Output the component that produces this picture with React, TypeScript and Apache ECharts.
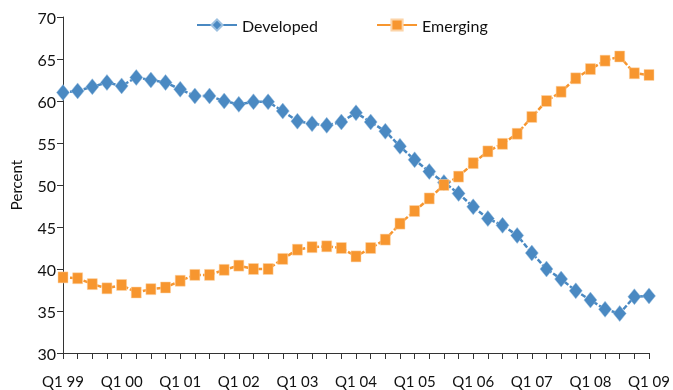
import React, { useEffect, useRef } from "react";
import * as echarts from "echarts";

const categories: string[] = [];
const years = ["99", "00", "01", "02", "03", "04", "05", "06", "07", "08", "09"];
years.forEach((y, i) => {
  const qs = i === years.length - 1 ? 1 : 4;
  for (let q = 1; q <= qs; q++) categories.push(`Q${q} ${y}`);
});

const developed = [
  61.0, 61.2, 61.7, 62.2, 61.8, 62.8, 62.5, 62.2, 61.4, 60.6,
  60.6, 60.0, 59.6, 59.9, 59.9, 58.8, 57.6, 57.3, 57.1, 57.5,
  58.6, 57.5, 56.4, 54.6, 53.0, 51.6, 50.3, 49.0, 47.4, 46.0,
  45.2, 44.0, 41.9, 40.0, 38.8, 37.4, 36.3, 35.2, 34.7, 36.7,
  36.8,
];

const emerging = [
  39.0, 38.9, 38.2, 37.7, 38.1, 37.2, 37.6, 37.8, 38.6, 39.3,
  39.3, 39.9, 40.4, 40.0, 40.0, 41.2, 42.3, 42.6, 42.7, 42.5,
  41.5, 42.5, 43.5, 45.4, 46.9, 48.4, 50.0, 51.0, 52.6, 54.0,
  54.9, 56.1, 58.1, 60.0, 61.1, 62.7, 63.8, 64.8, 65.3, 63.3,
  63.1,
];

const FONT = "Lato";
const BLUE = "#4A89C2";
const ORANGE = "#F7962F";

export default function App() {
  const ref = useRef<HTMLDivElement>(null);
  useEffect(() => {
    if (!ref.current) return;
    const chart = echarts.init(ref.current, undefined, { renderer: "svg" });
    chart.setOption({
      animation: false,
      textStyle: { fontFamily: FONT },
      grid: { left: 56, right: 21, top: 17, bottom: 37 },
      legend: {
        left: 191,
        top: 12,
        itemWidth: 40,
        itemHeight: 14,
        itemGap: 58,
        lineStyle: { type: "solid" },
        textStyle: { fontSize: 16, color: "#111", fontFamily: FONT },
        data: ["Developed", "Emerging"],
      },
      xAxis: {
        type: "category",
        data: categories,
        boundaryGap: false,
        axisLine: { lineStyle: { color: "#333", width: 1 } },
        axisTick: { show: true, interval: 0, length: 6, lineStyle: { color: "#333" } },
        axisLabel: {
          interval: 3,
          fontSize: 15,
          color: "#111",
          margin: 20,
          formatter: (v: string) => (v.startsWith("Q1") ? v : ""),
        },
        splitLine: { show: false },
      },
      yAxis: {
        type: "value",
        min: 30,
        max: 70,
        interval: 5,
        name: "Percent",
        nameLocation: "middle",
        nameGap: 40,
        nameTextStyle: { fontSize: 15, color: "#111" },
        axisLine: { show: true, lineStyle: { color: "#333", width: 1 } },
        axisTick: { show: true, length: 6, lineStyle: { color: "#333" } },
        axisLabel: { fontSize: 16, color: "#111", margin: 7 },
        splitLine: { show: false },
      },
      series: [
        {
          name: "Developed",
          type: "line",
          data: developed,
          symbol: "diamond",
          symbolSize: [13, 16],
          showAllSymbol: true,
          lineStyle: { color: BLUE, width: 2.5, type: [5, 2] },
          itemStyle: { color: BLUE, borderColor: "#9cc0e0", borderWidth: 0.5 },
        },
        {
          name: "Emerging",
          type: "line",
          data: emerging,
          symbol: "rect",
          symbolSize: [10, 11],
          showAllSymbol: true,
          lineStyle: { color: ORANGE, width: 2.5, type: [5, 2] },
          itemStyle: { color: ORANGE, borderColor: "#fcd4a8", borderWidth: 0.5 },
        },
      ],
    });
    return () => chart.dispose();
  }, []);
  return (
    <div
      ref={ref}
      style={{ position: "fixed", left: 0, top: 0, width: 673, height: 390 }}
    />
  );
}
